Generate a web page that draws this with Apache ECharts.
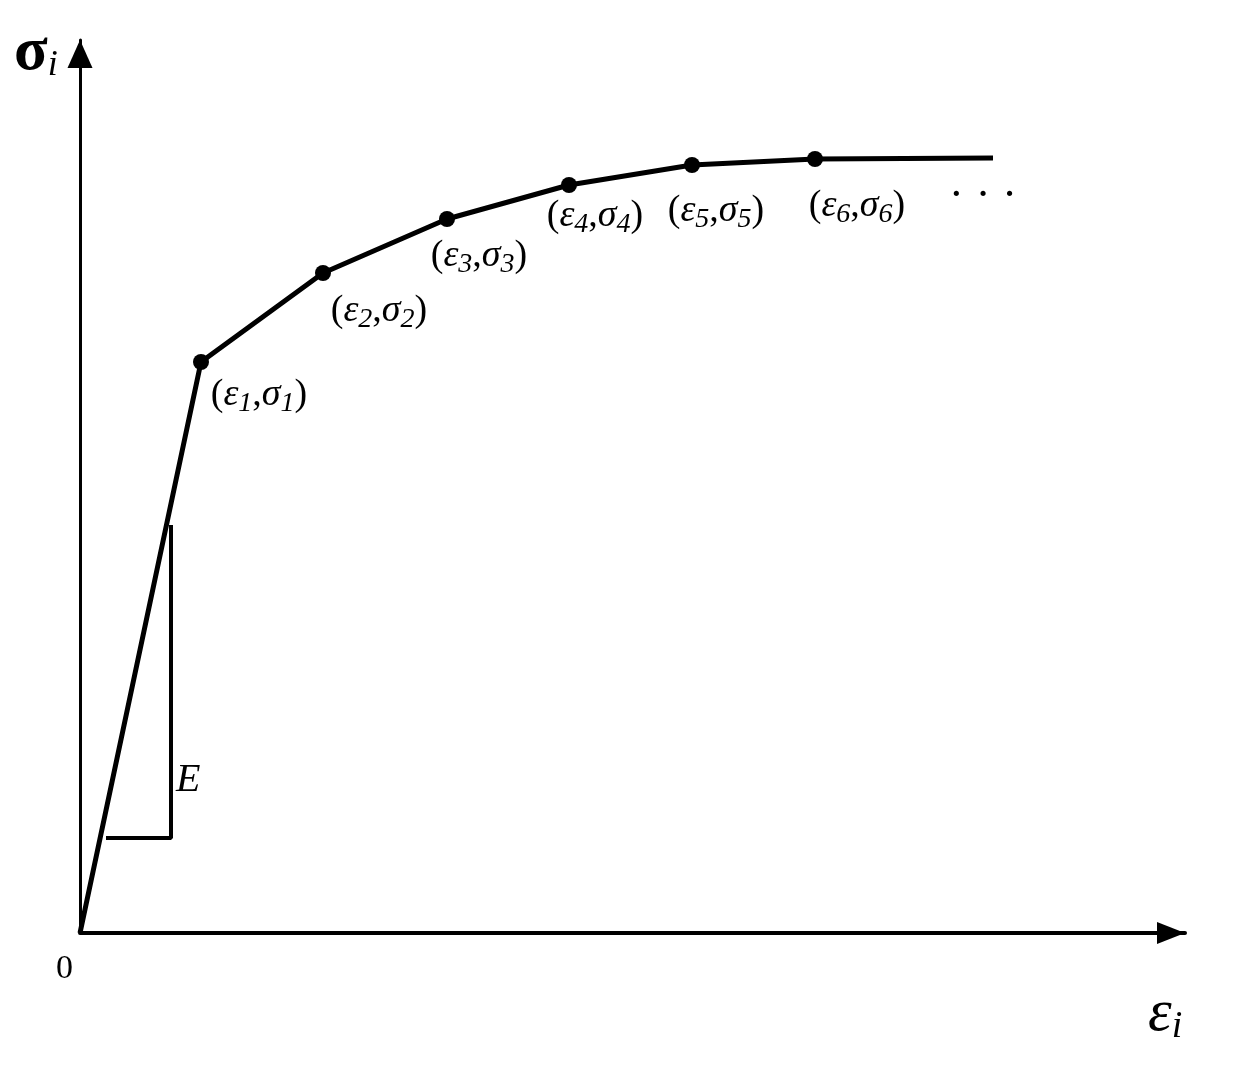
<!DOCTYPE html>
<html>
<head>
<meta charset="utf-8">
<script src="https://cdn.jsdelivr.net/npm/echarts@6/dist/echarts.min.js"></script>
<style>
  html, body { margin: 0; padding: 0; background: #fff; }
  #chart { width: 1235px; height: 1078px; }
</style>
</head>
<body>
<div id="chart"></div>
<script>
// strain / stress of the multilinear curve (arbitrary units)
const strain = [0, 1.21, 2.43, 3.67, 4.89, 6.12, 7.35, 9.13];
const stress = [0, 5.71, 6.60, 7.14, 7.48, 7.68, 7.74, 7.75];
const pointNames = ['', '1', '2', '3', '4', '5', '6', ''];
// slope triangle for E
const triX = [0.26, 0.91, 0.91];
const triY = [0.95, 0.95, 4.08];

const chart = echarts.init(document.getElementById('chart'));

// label offsets (style only)
const labelOffsets = [[0, 0], [58, -3], [56, 2], [32, 1], [26, -5], [24, 10], [42, 11], [0, 0]];

const serif = '"Liberation Serif", "DejaVu Serif", serif';

const curveData = strain.map((x, i) => {
  const d = { value: [x, stress[i]] };
  if (pointNames[i]) {
    d.symbol = 'circle';
    d.symbolSize = 16;
    d.label = {
      show: true,
      position: 'bottom',
      offset: labelOffsets[i],
      formatter: '{p|(}{it|ε}{s|' + pointNames[i] + '}{p|,}{it|σ}{s|' + pointNames[i] + '}{p|)}'
    };
  } else {
    d.symbol = 'circle';
    d.symbolSize = 0;
  }
  return d;
});
// trailing dots after the last segment
curveData[curveData.length - 1].label = {
  show: true,
  position: 'bottom',
  offset: [-10, 17],
  formatter: '{d|·  ·  ·}'
};

const option = {
  backgroundColor: '#fff',
  animation: false,
  grid: { left: 80, right: 50, top: 40, bottom: 145 },
  xAxis: {
    type: 'value',
    min: 0,
    max: 11.05,
    splitLine: { show: false },
    axisTick: { show: false },
    axisLabel: { show: false },
    axisLine: {
      show: true,
      symbol: ['none', 'triangle'],
      symbolSize: [22, 28],
      symbolOffset: [0, -14],
      lineStyle: { color: '#000', width: 4 }
    }
  },
  yAxis: {
    type: 'value',
    min: 0,
    max: 8.93,
    splitLine: { show: false },
    axisTick: { show: false },
    axisLabel: { show: false },
    axisLine: {
      show: true,
      symbol: ['none', 'triangle'],
      symbolSize: [25, 28],
      symbolOffset: [0, -14],
      lineStyle: { color: '#000', width: 3 }
    }
  },
  series: [
    {
      type: 'line',
      data: curveData,
      lineStyle: { color: '#000', width: 5 },
      itemStyle: { color: '#000' },
      label: {
        color: '#000',
        fontFamily: serif,
        rich: {
          p: { fontFamily: serif, fontSize: 38, color: '#000' },
          it: { fontFamily: serif, fontStyle: 'italic', fontSize: 38, color: '#000' },
          s: { fontFamily: serif, fontStyle: 'italic', fontSize: 28, color: '#000', padding: [18, 0, 0, 0] },
          d: { fontFamily: serif, fontSize: 32, fontWeight: 'bold', color: '#000' }
        }
      },
      z: 3
    },
    {
      type: 'line',
      data: triX.map((x, i) => {
        const d = { value: [x, triY[i]] };
        if (i === 1) {
          d.label = {
            show: true,
            position: 'right',
            offset: [0, -58],
            formatter: 'E',
            fontFamily: serif,
            fontStyle: 'italic',
            fontSize: 40,
            color: '#000'
          };
        }
        return d;
      }),
      symbol: 'circle',
      symbolSize: 0,
      lineStyle: { color: '#000', width: 4 },
      z: 2
    }
  ],
  graphic: [
    {
      type: 'text',
      left: 14,
      top: 22,
      style: {
        text: '{g|σ}{s|i}',
        rich: {
          g: { fontFamily: serif, fontSize: 62, fontWeight: 'bold', fill: '#000' },
          s: { fontFamily: serif, fontStyle: 'italic', fontSize: 36, fill: '#000', padding: [26, 0, 0, 0] }
        }
      }
    },
    {
      type: 'text',
      left: 1148,
      top: 984,
      style: {
        text: '{g|ε}{s|i}',
        rich: {
          g: { fontFamily: serif, fontStyle: 'italic', fontSize: 60, fill: '#000' },
          s: { fontFamily: serif, fontStyle: 'italic', fontSize: 38, fill: '#000', padding: [26, 0, 0, 0] }
        }
      }
    },
    {
      type: 'text',
      left: 56,
      top: 952,
      style: { text: '0', fontFamily: serif, fontSize: 34, fill: '#000' }
    }
  ]
};

chart.setOption(option);
</script>
</body>
</html>
